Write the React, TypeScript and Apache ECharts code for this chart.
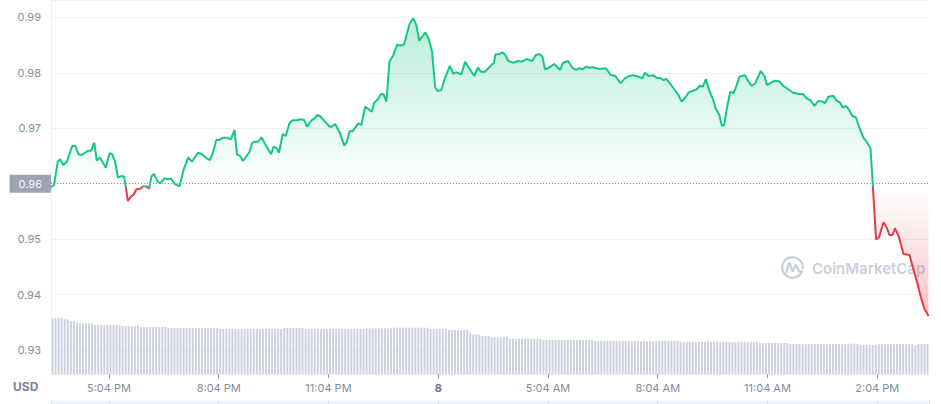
import React, { useEffect, useRef } from 'react';
import * as echarts from 'echarts';

// Minutes since the first sample (3:29 PM) and price in USD
const TIME_MIN = [
  0, 5, 11, 15, 20, 26, 35, 40, 45, 50, 61, 66, 71, 75, 80, 90, 96, 100, 105, 110,
  115, 120, 123, 126, 131, 136, 140, 146, 151, 156, 161, 165, 169, 175, 179, 186, 191, 197, 203, 209,
  211, 217, 225, 231, 241, 247, 255, 261, 266, 271, 275, 283, 288, 295, 301, 305, 310, 315, 321, 325,
  330, 334, 340, 345, 353, 361, 365, 370, 374, 380, 385, 391, 396, 403, 410, 415, 420, 426, 432, 437,
  441, 448, 457, 460, 466, 474, 481, 485, 490, 494, 498, 504, 509, 515, 521, 526, 530, 536, 541, 545,
  550, 555, 561, 568, 572, 579, 588, 594, 599, 604, 614, 620, 625, 630, 634, 640, 646, 654, 660, 664,
  673, 679, 687, 694, 700, 705, 712, 717, 723, 726, 729, 735, 740, 745, 750, 758, 766, 772, 780, 789,
  795, 802, 806, 810, 815, 825, 835, 840, 848, 855, 861, 866, 872, 877, 883, 888, 895, 900, 910, 918,
  925, 934, 941, 948, 955, 963, 970, 974, 980, 988, 993, 1000, 1004, 1009, 1015, 1022, 1029, 1034, 1040, 1046,
  1053, 1059, 1064, 1069, 1074, 1079, 1085, 1090, 1096, 1100, 1104, 1108, 1114, 1119, 1123, 1129, 1138, 1144, 1149, 1155,
  1160, 1164, 1170, 1174, 1181, 1187, 1194, 1201, 1209, 1217, 1226, 1233, 1239, 1245, 1252, 1258, 1266, 1269, 1275, 1283,
  1288, 1294, 1298, 1304, 1309, 1314, 1320, 1327, 1332, 1339, 1344, 1348, 1353, 1358, 1365, 1371, 1375, 1380, 1384, 1390,
  1398, 1408, 1413, 1420, 1427, 1432, 1439
];

const PRICE = [
  0.95940, 0.95976, 0.96396, 0.96439, 0.96336, 0.96396, 0.96684, 0.96679, 0.96529, 0.96517,
  0.96594, 0.96594, 0.96739, 0.96414, 0.96475, 0.96288, 0.96547, 0.96535, 0.96396, 0.96107,
  0.96138, 0.96125, 0.95916, 0.95687, 0.95765, 0.95808, 0.95898, 0.95909, 0.95952, 0.95952,
  0.95916, 0.96138, 0.96174, 0.96035, 0.96006, 0.96097, 0.96079, 0.96089, 0.95994, 0.95958,
  0.95958, 0.96234, 0.96475, 0.96396, 0.96558, 0.96535, 0.96457, 0.96427, 0.96576, 0.96787,
  0.96787, 0.96829, 0.96829, 0.96800, 0.96968, 0.96529, 0.96499, 0.96409, 0.96504, 0.96558,
  0.96739, 0.96757, 0.96757, 0.96836, 0.96679, 0.96529, 0.96666, 0.96638, 0.96558, 0.96895,
  0.96859, 0.97088, 0.97142, 0.97142, 0.97161, 0.97148, 0.97027, 0.97130, 0.97179, 0.97238,
  0.97220, 0.97135, 0.97027, 0.97027, 0.97076, 0.96908, 0.96684, 0.96757, 0.96955, 0.96937,
  0.96998, 0.97088, 0.97058, 0.97388, 0.97341, 0.97298, 0.97460, 0.97521, 0.97611, 0.97617,
  0.97478, 0.98199, 0.98308, 0.98513, 0.98488, 0.98513, 0.98879, 0.98982, 0.98861, 0.98578,
  0.98729, 0.98591, 0.98369, 0.97738, 0.97671, 0.97689, 0.97900, 0.98122, 0.97977, 0.98008,
  0.97972, 0.98199, 0.98062, 0.97941, 0.98091, 0.98019, 0.98019, 0.98080, 0.98152, 0.98170,
  0.98333, 0.98333, 0.98369, 0.98320, 0.98212, 0.98181, 0.98212, 0.98199, 0.98248, 0.98212,
  0.98320, 0.98333, 0.98289, 0.98062, 0.98080, 0.98158, 0.98050, 0.98181, 0.98212, 0.98091,
  0.98050, 0.98080, 0.98062, 0.98109, 0.98091, 0.98098, 0.98080, 0.98068, 0.98080, 0.97959,
  0.97947, 0.97810, 0.97900, 0.97941, 0.97954, 0.97929, 0.97900, 0.98001, 0.97941, 0.97954,
  0.97911, 0.97900, 0.97869, 0.97887, 0.97810, 0.97702, 0.97599, 0.97478, 0.97550, 0.97647,
  0.97676, 0.97702, 0.97766, 0.97748, 0.97887, 0.97689, 0.97539, 0.97359, 0.97238, 0.97045,
  0.97058, 0.97341, 0.97658, 0.97629, 0.97730, 0.97929, 0.97954, 0.97839, 0.97761, 0.97810,
  0.97941, 0.98032, 0.97941, 0.97779, 0.97821, 0.97857, 0.97846, 0.97761, 0.97702, 0.97640,
  0.97617, 0.97617, 0.97539, 0.97509, 0.97400, 0.97491, 0.97478, 0.97449, 0.97568, 0.97586,
  0.97496, 0.97460, 0.97377, 0.97400, 0.97328, 0.97220, 0.97197, 0.96968, 0.96836, 0.96728,
  0.96638, 0.95916, 0.94996, 0.95033, 0.95303, 0.95195, 0.95074, 0.95074, 0.95195, 0.95056,
  0.94731, 0.94713, 0.94502, 0.94232, 0.93932, 0.93752, 0.93613
];

// Volume per 5-minute bucket (arbitrary units, hidden axis)
const VOLUME_STEP_MIN = 5;
const VOLUME = [
  5.63, 5.63, 5.63, 5.63, 5.50, 5.50, 5.33, 5.33, 5.16, 5.10, 5.10, 5.10, 5.10, 5.10,
  4.93, 4.93, 4.93, 4.93, 4.93, 4.93, 4.93, 4.93, 4.93,
  4.83, 4.83, 4.83, 4.83, 4.83, 4.83,
  4.73, 4.73, 4.73, 4.73, 4.73, 4.73, 4.73, 4.73, 4.73,
  4.63, 4.63, 4.63, 4.63, 4.63, 4.63, 4.63, 4.63, 4.63, 4.63, 4.63, 4.63, 4.63, 4.63, 4.63, 4.63, 4.63,
  4.53, 4.53, 4.53, 4.53, 4.53, 4.53, 4.53, 4.53, 4.53, 4.53, 4.53, 4.53, 4.53, 4.53, 4.53, 4.53, 4.53, 4.53, 4.53, 4.53, 4.53,
  4.63, 4.63, 4.63, 4.63, 4.63, 4.63, 4.63,
  4.53, 4.53, 4.53, 4.53, 4.53, 4.53, 4.53, 4.53, 4.53, 4.53, 4.53, 4.53, 4.53, 4.53, 4.53, 4.53, 4.53, 4.53, 4.53, 4.53,
  4.60, 4.60, 4.60, 4.60, 4.60, 4.60, 4.60, 4.60,
  4.66, 4.66, 4.66, 4.66, 4.66, 4.66, 4.66, 4.66, 4.66, 4.66, 4.66, 4.66, 4.66,
  4.53, 4.53, 4.53, 4.53, 4.53, 4.53,
  4.43, 4.43, 4.43, 4.43, 4.43, 4.43, 4.43,
  4.16, 3.96, 3.96, 3.96, 3.83, 3.83, 3.83,
  3.70, 3.70, 3.70, 3.70, 3.70, 3.70,
  3.56, 3.56, 3.56, 3.56, 3.56, 3.56, 3.56, 3.56, 3.56, 3.56, 3.56,
  3.43, 3.43, 3.43, 3.43, 3.43, 3.43, 3.43, 3.43, 3.43, 3.43, 3.43, 3.43, 3.43, 3.43, 3.43, 3.43, 3.43,
  3.33, 3.33, 3.33, 3.33, 3.33, 3.33, 3.33, 3.33, 3.33, 3.33, 3.33, 3.33, 3.33, 3.33,
  3.30, 3.30, 3.30, 3.30, 3.30, 3.30,
  3.36, 3.36, 3.36, 3.36, 3.36, 3.36, 3.36, 3.36,
  3.23, 3.23, 3.23, 3.23, 3.23, 3.23, 3.23, 3.23, 3.23, 3.23, 3.23, 3.23, 3.23, 3.23, 3.23, 3.23, 3.23, 3.23, 3.23, 3.23, 3.23, 3.23, 3.23, 3.23, 3.23, 3.23,
  3.13, 3.13, 3.13, 3.13, 3.13, 3.13, 3.13, 3.13, 3.13, 3.13,
  3.03, 3.03, 3.03, 3.03, 3.03, 3.03, 3.03, 3.03, 3.03, 3.03, 3.03, 3.03, 3.03, 3.03, 3.03, 3.03, 3.03, 3.03, 3.03, 3.03,
  3.06, 3.06, 3.06, 2.93, 2.93, 2.93, 2.93, 2.93, 2.93,
  3.03, 3.03, 3.03, 3.03, 3.03, 3.03, 3.03, 3.03, 3.03, 3.03, 3.03, 3.03,
  2.90, 3.03, 3.03, 3.03, 3.03
];

// x ticks: first tick 95 min after the first sample, then every 3 hours
const FIRST_TICK_MIN = 95;
const TICK_STEP_MIN = 180;
const SPAN_MIN = 1440;
const X_TICK_LABELS = ['5:04 PM', '8:04 PM', '11:04 PM', '8', '5:04 AM', '8:04 AM', '11:04 AM', '2:04 PM'];
const Y_STEP = 0.01;

const GREEN = '#16c784';
const RED = '#ea3943';
const AXIS_TEXT = '#858d9f';
const GRID_LINE = '#eff2f5';

const LOGO_D =
  'M 9.33 4.35 A 10.3 10.3 0 1 1 10.26 0.9 ' +
  'M -6.2 4.6 L -3.7 -3.4 Q -3.1 -4.6 -2.5 -3.4 L -0.3 2.8 Q 0.3 4.2 0.9 2.8 L 2.9 -2.2 Q 3.4 -3.2 3.9 -2.2 L 5.3 1.4 Q 6.6 4.8 9.8 4.1';

let logoRegistered = false;
function registerLogo() {
  if (logoRegistered) return;
  echarts.graphic.registerShape('cmcLogo', echarts.graphic.extendPath(LOGO_D, {}));
  logoRegistered = true;
}

export default function App() {
  const ref = useRef<HTMLDivElement>(null);

  useEffect(() => {
    if (!ref.current) return;
    registerLogo();
    const chart = echarts.init(ref.current, undefined, { renderer: 'svg' });

    // axis coordinate = minutes + shift, so that the tick grid (multiples of TICK_STEP) lands on the labels
    const shift = TICK_STEP_MIN - FIRST_TICK_MIN;
    const xMin = shift;
    const xMax = SPAN_MIN + shift;

    const refPrice = PRICE[0];
    const maxP = Math.max(...PRICE);
    const minP = Math.min(...PRICE);
    const refFrac = (maxP - refPrice) / (maxP - minP);

    const lineData = TIME_MIN.map((t, i) => [t + shift, PRICE[i]]);
    const volData = VOLUME.map((v, i) => [i * VOLUME_STEP_MIN + VOLUME_STEP_MIN / 2 + shift, v]);

    const isStep = (v: number, step: number) => Math.abs(v / step - Math.round(v / step)) < 1e-6;

    const xLabel = (v: number) => {
      if (!isStep(v, TICK_STEP_MIN)) return '';
      const idx = Math.round(v / TICK_STEP_MIN) - 1;
      const s = X_TICK_LABELS[idx];
      if (s == null) return '';
      return /^\d+$/.test(s) ? `{b|${s}}` : s;
    };

    const option: any = {
      animation: false,
      textStyle: { fontFamily: 'Inter' },
      grid: [
        { left: 51, top: 0, width: 878.1, height: 374.3, outerBoundsMode: 'none', containLabel: false },
        {
          left: 51, top: 400.7, width: 878.1, height: 3.3, show: true,
          backgroundColor: '#eef3fd', borderWidth: 0, outerBoundsMode: 'none', containLabel: false,
        },
      ],
      xAxis: [
        {
          type: 'value', gridIndex: 0, min: xMin, max: xMax,
          minInterval: TICK_STEP_MIN, maxInterval: TICK_STEP_MIN,
          axisLine: { show: true, lineStyle: { color: GRID_LINE } },
          axisTick: { show: true, length: 4, lineStyle: { color: '#8a92a3' } },
          axisLabel: {
            color: AXIS_TEXT, fontSize: 11, margin: 8, fontFamily: 'Inter',
            showMinLabel: false, showMaxLabel: false,
            formatter: xLabel,
            rich: { b: { fontWeight: 'bold', color: '#6b7588', fontSize: 11, fontFamily: 'Inter' } },
          },
          splitLine: { show: false },
        },
        {
          type: 'value', gridIndex: 1, min: xMin, max: xMax,
          minInterval: TICK_STEP_MIN, maxInterval: TICK_STEP_MIN,
          axisLine: { show: false },
          axisTick: { show: false },
          axisLabel: { show: false },
          splitLine: { show: true, lineStyle: { color: '#d9e2f2', width: 1 } },
        },
      ],
      yAxis: [
        {
          type: 'value', gridIndex: 0, min: 0.925618, max: 0.99312,
          minInterval: Y_STEP, maxInterval: Y_STEP,
          axisLine: { show: true, lineStyle: { color: GRID_LINE } },
          axisTick: { show: false },
          axisLabel: {
            color: AXIS_TEXT, fontSize: 11, margin: 10, fontFamily: 'Inter',
            showMinLabel: false, showMaxLabel: false,
            formatter: (v: number) => {
              if (!isStep(v, Y_STEP)) return '';
              const s = v.toFixed(2);
              return s === refPrice.toFixed(2) ? '' : s;
            },
          },
          splitLine: { show: true, lineStyle: { color: GRID_LINE, width: 1 } },
        },
        { type: 'value', gridIndex: 0, min: 0, max: 37.43, show: false, splitLine: { show: false } },
        { type: 'value', gridIndex: 1, show: false, splitLine: { show: false } },
      ],
      visualMap: {
        type: 'piecewise', show: false, seriesIndex: 1, dimension: 1,
        pieces: [
          { gte: 0, lt: refPrice, color: RED },
          { gte: refPrice, lte: 2, color: GREEN },
        ],
        outOfRange: { color: GREEN },
      },
      graphic: [
        {
          type: 'text', left: 13, top: 380,
          style: { text: 'USD', fontFamily: 'Inter', fontSize: 12, fontWeight: 'bold', fill: '#7b8497' },
        },
        {
          type: 'cmcLogo', x: 792.5, y: 267.5, z: -1,
          style: { fill: 'none', stroke: '#c9d0dc', lineWidth: 2.3, lineCap: 'round', lineJoin: 'round' },
        },
        {
          type: 'text', x: 812, y: 268.5, z: -1,
          style: {
            text: 'CoinMarketCap', fontFamily: 'Inter', fontSize: 15, fontWeight: 600,
            fill: '#c9d0dc', align: 'left', verticalAlign: 'middle',
          },
        },
      ],
      series: [
        {
          type: 'bar', xAxisIndex: 0, yAxisIndex: 1, data: volData, barWidth: 2,
          itemStyle: { color: '#ccd3df' }, silent: true,
        },
        {
          type: 'line', xAxisIndex: 0, yAxisIndex: 0, data: lineData,
          showSymbol: false, symbol: 'none', smooth: false,
          lineStyle: { width: 2 },
          areaStyle: {
            origin: refPrice,
            opacity: 1,
            color: new echarts.graphic.LinearGradient(0, 0, 0, 1, [
              { offset: 0, color: 'rgba(22,199,132,0.30)' },
              { offset: refFrac, color: 'rgba(22,199,132,0.0)' },
              { offset: refFrac, color: 'rgba(234,57,67,0.0)' },
              { offset: 1, color: 'rgba(234,57,67,0.30)' },
            ]),
          },
          markLine: {
            silent: true, symbol: ['none', 'none'],
            lineStyle: { type: [1, 2], color: '#8c93a3', width: 1 },
            label: {
              show: true, position: 'start', distance: 0,
              formatter: () => refPrice.toFixed(2),
              backgroundColor: '#9ea4b0', color: '#f4f5f7',
              fontSize: 11, lineHeight: 12, fontFamily: 'Inter',
              padding: [3, 9, 3, 9],
            },
            data: [{ yAxis: refPrice }],
          },
        },
      ],
    };

    chart.setOption(option);
    return () => chart.dispose();
  }, []);

  return (
    <div
      ref={ref}
      style={{ position: 'absolute', left: 0, top: 0, width: 941, height: 404, background: '#ffffff' }}
    />
  );
}
